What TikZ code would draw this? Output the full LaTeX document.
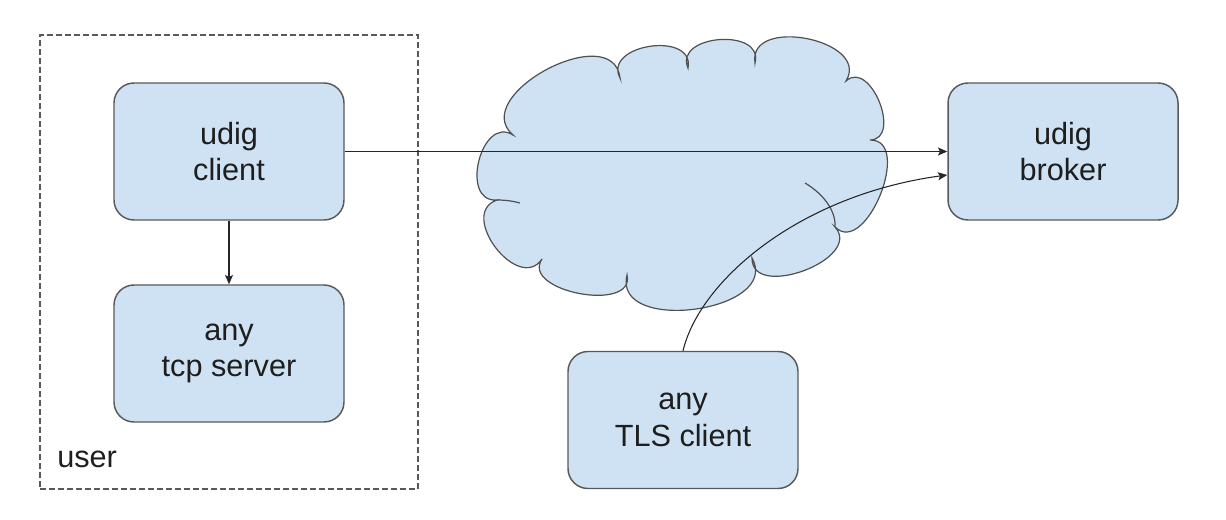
\documentclass[tikz,border=0pt]{standalone}
\usepackage{fontspec}
\setmainfont{Liberation Sans}
\usetikzlibrary{calc,arrows.meta}
\definecolor{boxfill}{HTML}{CFE2F3}
\definecolor{boxline}{HTML}{595959}
\definecolor{txt}{HTML}{1E1E1E}
\newcommand\lobe[3]{.. controls ($(#1)!-0.18!(#2)!#3pt!90:(#2)$) and ($(#2)!-0.18!(#1)!#3pt!-90:(#1)$) .. (#2)}
\begin{document}
\begin{tikzpicture}[x=0.75pt,y=-0.75pt,
  box/.style={draw=boxline,line width=1.1pt,fill=boxfill,rounded corners=15pt,
    minimum width=172.5pt,minimum height=102.75pt,align=center,text=txt,
    font=\fontsize{23}{27.5}\selectfont,inner sep=0pt},
  conn/.style={draw=black!85,line width=0.8pt,-{Stealth[length=7pt,width=6pt,inset=1.5pt]}},
  cloudline/.style={draw=boxline!90!black,line width=0.9pt},
  userbox/.style={draw=boxline,line width=1pt,dash pattern=on 4.5pt off 2.25pt,
    minimum width=283.5pt,minimum height=340.5pt,inner sep=0pt},
  lbl/.style={text=txt,font=\fontsize{23}{27.5}\selectfont,inner sep=0pt}]
\useasboundingbox (0,0) rectangle (1226,520);
% user group
\node[userbox] (grp) at (229,262) {};
\node[lbl,anchor=base west] (user) at (57,467) {user};
% cloud
\coordinate (k1) at (497,200);
\coordinate (k2) at (513,135);
\coordinate (k3) at (620,78);
\coordinate (k4) at (688,68);
\coordinate (k5) at (755,63);
\coordinate (k6) at (846,81);
\coordinate (k7) at (870,140);
\coordinate (k8) at (835,227);
\coordinate (k9) at (752,258);
\coordinate (k10) at (627,275);
\coordinate (k11) at (542,259);
\path[cloudline,fill=boxfill] (k1) \lobe{k1}{k2}{27} \lobe{k2}{k3}{42} \lobe{k3}{k4}{27}
  \lobe{k4}{k5}{26} \lobe{k5}{k6}{34} \lobe{k6}{k7}{23} \lobe{k7}{k8}{30}
  \lobe{k8}{k9}{30} \lobe{k9}{k10}{43} \lobe{k10}{k11}{27} \lobe{k11}{k1}{30} -- cycle;
\coordinate (t1) at (805,183);
\coordinate (t2) at (520,203);
\draw[cloudline] (t1) .. controls (825,195) and (836,212) .. (k8);
\draw[cloudline] (k1) .. controls (505,200) and (513,201) .. (t2);
% boxes
\node[box] (client) at (229,151.5) {udig\\client};
\node[box] (server) at (229,353.5) {any\\tcp server};
\node[box] (broker) at (1063,151.5) {udig\\broker};
\node[box] (tls) at (683,420) {any\\TLS client};
% connectors
\coordinate (b2) at ([yshift=-17.6pt]broker.west);
\draw[conn] (client.south) -- (server.north);
\draw[conn] (client.east) -- (client.east -| broker.west);
\draw[conn] (tls.north) .. controls (700,280) and (800,195) .. (b2);
\end{tikzpicture}
\end{document}
